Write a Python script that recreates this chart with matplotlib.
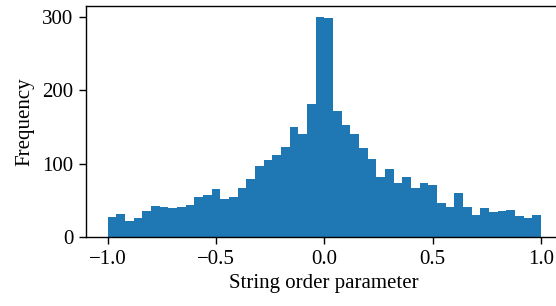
import matplotlib
matplotlib.use('Agg')
import matplotlib.pyplot as plt
import numpy as np

plt.rcParams['font.family'] = ['Liberation Serif', 'DejaVu Serif']
plt.rcParams['mathtext.fontset'] = 'stix'
plt.rcParams['font.size'] = 15

# histogram of string order parameter, 50 bins on [-1, 1]
bin_edges = np.linspace(-1.0, 1.0, 51)
counts = [28, 32, 22, 26, 36, 43, 41, 40, 41, 44,
          55, 58, 66, 52, 55, 67, 80, 97, 105, 112,
          123, 150, 140, 182, 300, 298, 172, 153, 140, 122,
          107, 82, 93, 74, 82, 67, 74, 71, 47, 41,
          60, 41, 30, 40, 35, 36, 37, 29, 26, 30]
bin_centers = 0.5 * (bin_edges[:-1] + bin_edges[1:])

fig = plt.figure(figsize=(5.56, 3.06), dpi=100)
ax = fig.add_axes([86 / 556, (306 - 237.3) / 306, (562.6 - 86) / 556, 231.5 / 306])
ax.hist(bin_centers, bins=bin_edges, weights=counts, color='#1f77b4')

ax.set_xticks([-1.0, -0.5, 0.0, 0.5, 1.0])
ax.set_yticks([0, 100, 200, 300])
ax.tick_params(length=5, width=1, pad=4)
for s in ax.spines.values():
    s.set_linewidth(1.0)
ax.set_xlabel("String order parameter", labelpad=4)
ax.set_ylabel("Frequency", labelpad=6)

fig.savefig('out.png', dpi=100)
